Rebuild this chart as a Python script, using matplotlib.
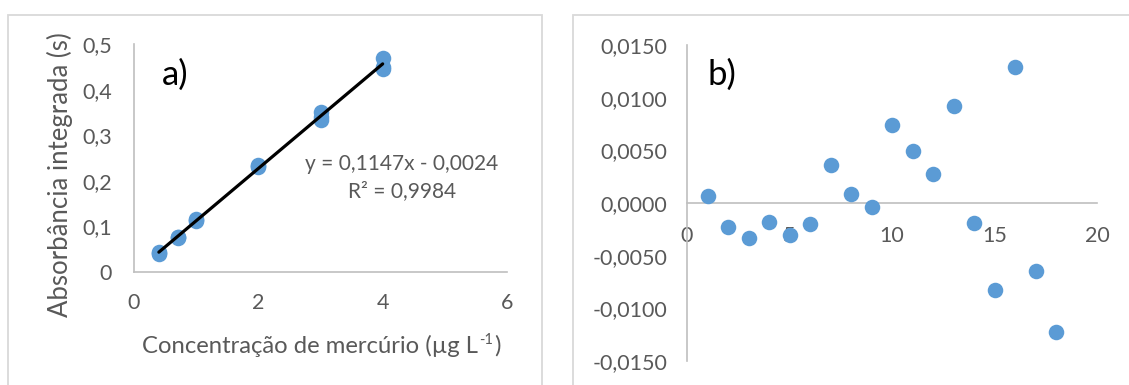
import matplotlib
matplotlib.use('Agg')
import matplotlib.pyplot as plt
from matplotlib.ticker import FuncFormatter
from matplotlib.patches import Rectangle

# ---- data ----
conc = [0.4, 0.4, 0.4, 0.7, 0.7, 0.7, 1.0, 1.0, 1.0,
        2.0, 2.0, 2.0, 3.0, 3.0, 3.0, 4.0, 4.0, 4.0]
absorb = [0.0442, 0.0412, 0.0402, 0.0761, 0.0749, 0.0759,
          0.1159, 0.1132, 0.1119, 0.2344, 0.2319, 0.2298,
          0.3509, 0.3398, 0.3334, 0.4693, 0.4499, 0.4442]
slope = 0.1147
intercept = -0.0024
fit_x = [0.4, 4.0]
eq_text = "y = 0,1147x - 0,0024\nR² = 0,9984"

res_idx = list(range(1, 19))
residuals = [0.0007, -0.0023, -0.0033, -0.0018, -0.0030, -0.0020,
             0.0036, 0.0009, -0.0004, 0.0074, 0.0049, 0.0028,
             0.0092, -0.0019, -0.0083, 0.0129, -0.0065, -0.0122]

left_xticks = [0, 2, 4, 6]
left_yticks = [0, 0.1, 0.2, 0.3, 0.4, 0.5]
right_xticks = [0, 5, 10, 15, 20]
right_yticks = [-0.015, -0.010, -0.005, 0.0, 0.005, 0.010, 0.015]

# ---- style ----
plt.rcParams['font.family'] = ['Lato', 'DejaVu Sans']
BLUE = '#5B9BD5'
GRAY = '#595959'
SPINE = '#BFBFBF'
FRAME = '#D9D9D9'
TICK_FS = 15.5

W, H = 1129, 385
fig = plt.figure(figsize=(W / 100, H / 100), dpi=100)


def ax_rect(l, t, r, b):
    return [l / W, 1 - b / H, (r - l) / W, (b - t) / H]


# panel frames
for (l, t, r, b) in [(8, 15, 542, 400), (573, 15, 1140, 400)]:
    fig.patches.append(Rectangle((l / W, 1 - b / H), (r - l) / W, (b - t) / H,
                                 transform=fig.transFigure, fill=False,
                                 edgecolor=FRAME, linewidth=1.3, clip_on=False))

# ---- panel a ----
ax1 = fig.add_axes(ax_rect(134, 44, 507, 272))
ax1.set_xlim(0, 6)
ax1.set_ylim(0, 0.5)
ax1.set_xticks(left_xticks)
ax1.set_yticks(left_yticks)
ax1.xaxis.set_major_formatter(FuncFormatter(lambda v, p: f"{v:g}"))
ax1.yaxis.set_major_formatter(
    FuncFormatter(lambda v, p: "0" if abs(v) < 1e-9 else f"{v:.1f}".replace('.', ',')))
for s in ['top', 'right']:
    ax1.spines[s].set_visible(False)
for s in ['left', 'bottom']:
    ax1.spines[s].set_color(SPINE)
    ax1.spines[s].set_linewidth(1.2)
ax1.tick_params(axis='both', length=0, labelsize=TICK_FS, colors=GRAY)
ax1.tick_params(axis='x', pad=15)
ax1.tick_params(axis='y', pad=16)
ax1.scatter(conc, absorb, s=125, color=BLUE, zorder=3, clip_on=False, linewidths=0)
fit_y = [slope * x + intercept for x in fit_x]
ax1.plot(fit_x, fit_y, color='black', linewidth=2.3, zorder=4, solid_capstyle='round')
ax1.text(0.45, 0.432, "a)", fontsize=25, color='black', ha='left', va='center')
ax1.text(4.31, 0.207, eq_text, fontsize=15, color=GRAY, ha='center', va='center',
         multialignment='center', linespacing=1.4)

# x label with superscript -1 built from pieces (baseline aligned)
XL_FS = 17.2
BASE_Y = 1 - 353 / H
t_main = fig.text(142 / W, BASE_Y, "Concentração de mercúrio (µg L",
                  fontsize=XL_FS, color=GRAY, ha='left', va='baseline')
fig.canvas.draw()
x_end = t_main.get_window_extent().x1
t_sup = fig.text((x_end + 1) / W, BASE_Y + 9 / H, "-1",
                 fontsize=XL_FS * 0.62, color=GRAY, ha='left', va='baseline')
fig.canvas.draw()
x_end2 = t_sup.get_window_extent().x1
fig.text((x_end2 + 1) / W, BASE_Y, ")", fontsize=XL_FS, color=GRAY,
         ha='left', va='baseline')

fig.text(60 / W, 1 - 175 / H, "Absorbância integrada (s)", rotation=90,
         fontsize=18.5, color=GRAY, ha='center', va='center')

# ---- panel b ----
ax2 = fig.add_axes(ax_rect(687, 45, 1097, 361))
ax2.set_xlim(0, 20)
ax2.set_ylim(-0.015, 0.015)
ax2.set_xticks(right_xticks)
ax2.set_yticks(right_yticks)
ax2.xaxis.set_major_formatter(FuncFormatter(lambda v, p: f"{v:g}"))
ax2.yaxis.set_major_formatter(FuncFormatter(lambda v, p: f"{v:.4f}".replace('.', ',')
                                            if abs(v) > 1e-12 else "0,0000"))
for s in ['top', 'right']:
    ax2.spines[s].set_visible(False)
ax2.spines['bottom'].set_position(('data', 0))
for s in ['left', 'bottom']:
    ax2.spines[s].set_color(SPINE)
    ax2.spines[s].set_linewidth(1.2)
ax2.tick_params(axis='both', length=0, labelsize=TICK_FS, colors=GRAY)
ax2.tick_params(axis='x', pad=16.5)
ax2.tick_params(axis='y', pad=14)
ax2.scatter(res_idx, residuals, s=125, color=BLUE, zorder=5, clip_on=False, linewidths=0)
ax2.text(1.0, 0.0122, "b)", fontsize=25, color='black', ha='left', va='center')

fig.savefig('out.png', dpi=100)
